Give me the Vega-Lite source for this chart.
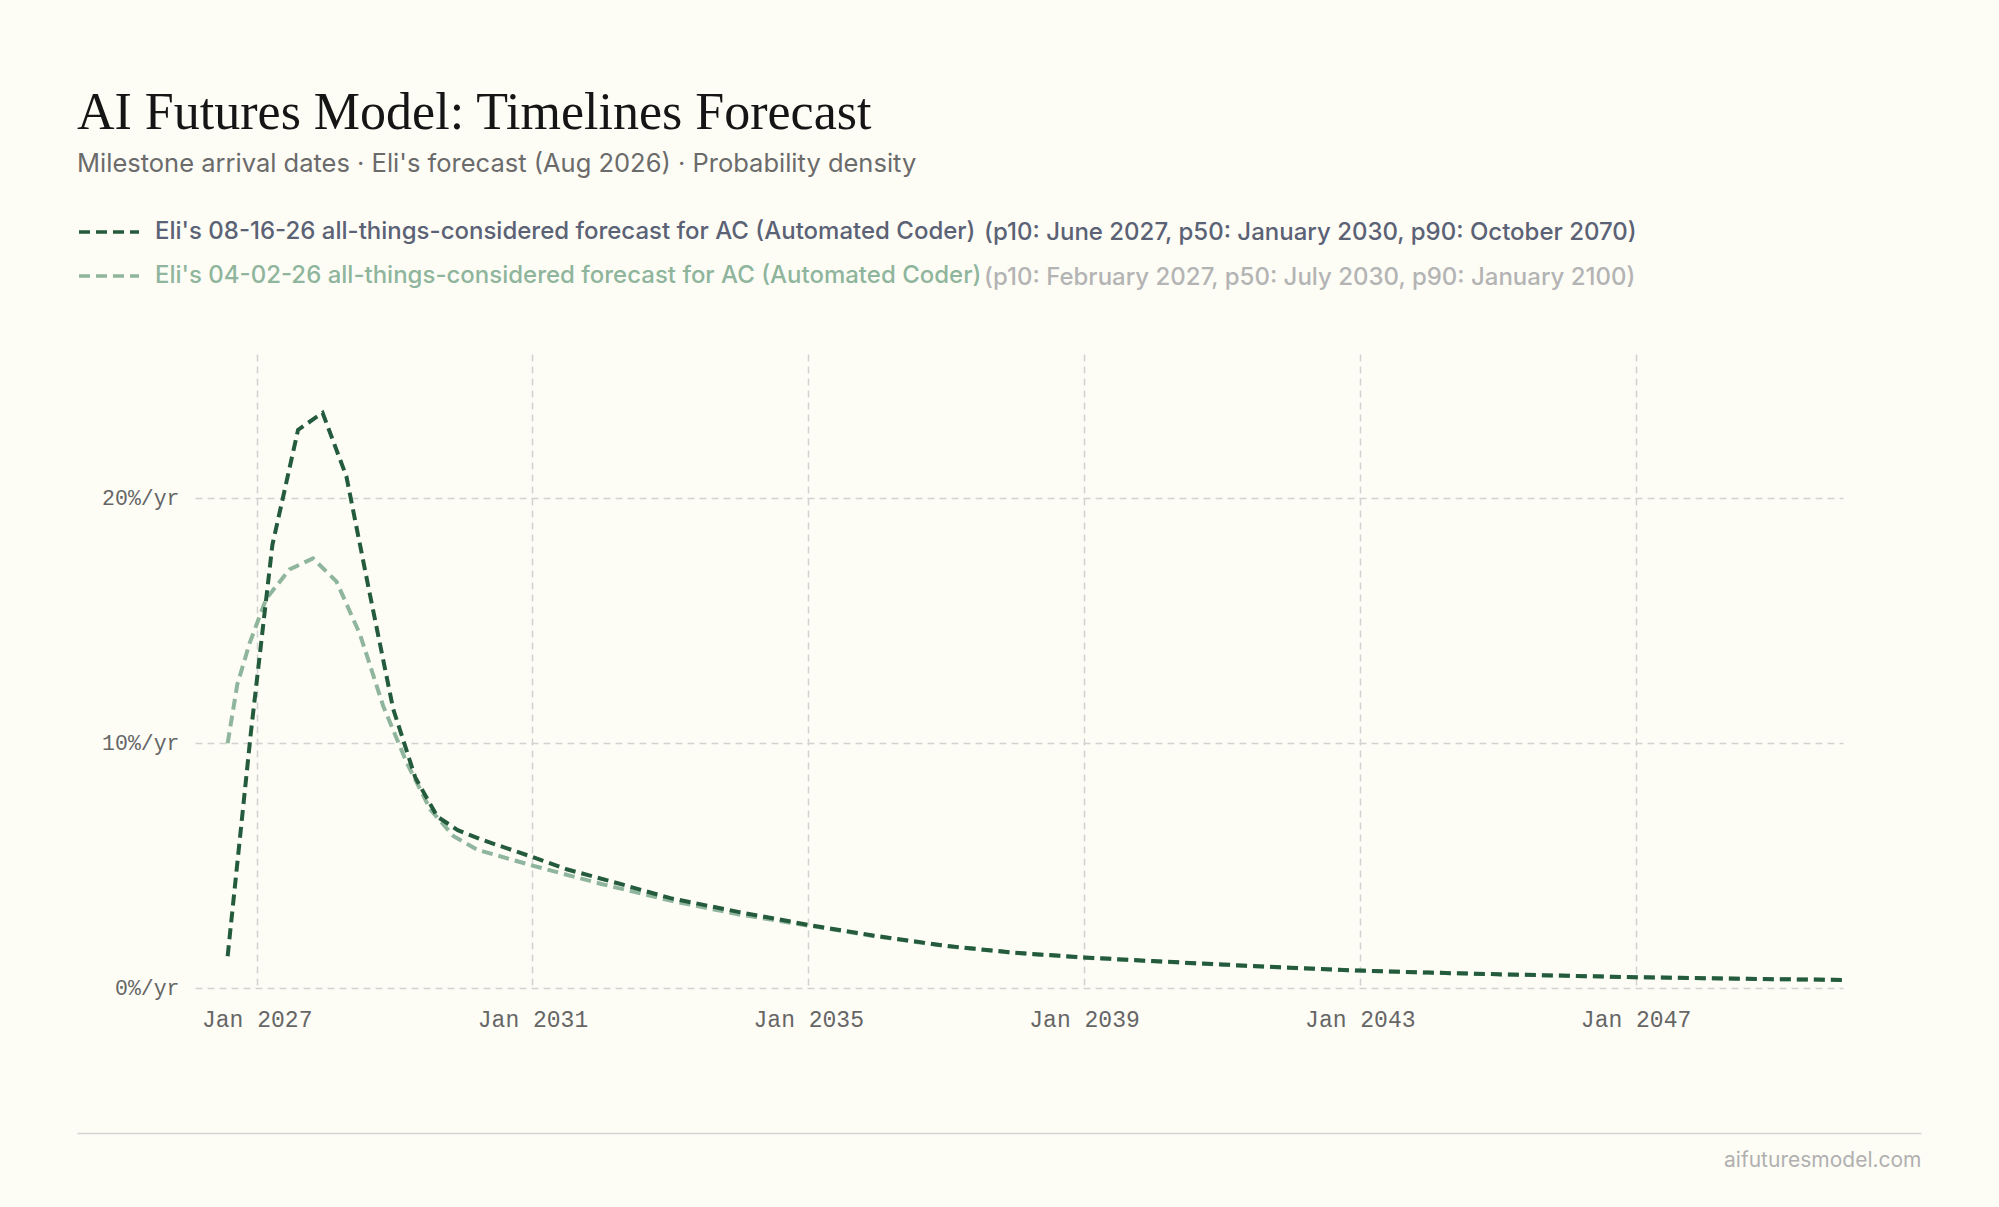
{
  "$schema": "https://vega.github.io/schema/vega-lite/v6.json",
  "width": 1648,
  "height": 634,
  "autosize": {"type": "none"},
  "padding": {"left": 195, "right": 156, "top": 354, "bottom": 219},
  "background": "#fdfdf6",
  "title": {
    "text": "AI Futures Model: Timelines Forecast",
    "subtitle": "Milestone arrival dates · Eli's forecast (Aug 2026) · Probability density",
    "anchor": "start",
    "frame": "group",
    "dx": -118,
    "font": "Liberation Serif",
    "fontSize": 52,
    "fontWeight": "normal",
    "color": "#151515",
    "subtitleFont": "Inter",
    "subtitleFontSize": 25.5,
    "subtitleColor": "#6b6b6b",
    "subtitlePadding": 12,
    "offset": 22
  },
  "data": {
    "values": [
      {"series": "Eli's 04-02-26 all-things-considered forecast for AC (Automated Coder)", "summary": "(p10: February 2027, p50: July 2030, p90: January 2100)", "date": "2026-07-31", "density": 10.0},
      {"series": "Eli's 04-02-26 all-things-considered forecast for AC (Automated Coder)", "summary": "(p10: February 2027, p50: July 2030, p90: January 2100)", "date": "2026-09-20", "density": 12.4},
      {"series": "Eli's 04-02-26 all-things-considered forecast for AC (Automated Coder)", "summary": "(p10: February 2027, p50: July 2030, p90: January 2100)", "date": "2026-11-25", "density": 14.1},
      {"series": "Eli's 04-02-26 all-things-considered forecast for AC (Automated Coder)", "summary": "(p10: February 2027, p50: July 2030, p90: January 2100)", "date": "2027-02-20", "density": 15.9},
      {"series": "Eli's 04-02-26 all-things-considered forecast for AC (Automated Coder)", "summary": "(p10: February 2027, p50: July 2030, p90: January 2100)", "date": "2027-06-24", "density": 17.1},
      {"series": "Eli's 04-02-26 all-things-considered forecast for AC (Automated Coder)", "summary": "(p10: February 2027, p50: July 2030, p90: January 2100)", "date": "2027-10-26", "density": 17.55},
      {"series": "Eli's 04-02-26 all-things-considered forecast for AC (Automated Coder)", "summary": "(p10: February 2027, p50: July 2030, p90: January 2100)", "date": "2028-02-28", "density": 16.6},
      {"series": "Eli's 04-02-26 all-things-considered forecast for AC (Automated Coder)", "summary": "(p10: February 2027, p50: July 2030, p90: January 2100)", "date": "2028-07-01", "density": 14.45},
      {"series": "Eli's 04-02-26 all-things-considered forecast for AC (Automated Coder)", "summary": "(p10: February 2027, p50: July 2030, p90: January 2100)", "date": "2028-11-02", "density": 11.5},
      {"series": "Eli's 04-02-26 all-things-considered forecast for AC (Automated Coder)", "summary": "(p10: February 2027, p50: July 2030, p90: January 2100)", "date": "2029-03-06", "density": 9.2},
      {"series": "Eli's 04-02-26 all-things-considered forecast for AC (Automated Coder)", "summary": "(p10: February 2027, p50: July 2030, p90: January 2100)", "date": "2029-07-08", "density": 7.3},
      {"series": "Eli's 04-02-26 all-things-considered forecast for AC (Automated Coder)", "summary": "(p10: February 2027, p50: July 2030, p90: January 2100)", "date": "2029-11-09", "density": 6.2},
      {"series": "Eli's 04-02-26 all-things-considered forecast for AC (Automated Coder)", "summary": "(p10: February 2027, p50: July 2030, p90: January 2100)", "date": "2030-03-14", "density": 5.65},
      {"series": "Eli's 04-02-26 all-things-considered forecast for AC (Automated Coder)", "summary": "(p10: February 2027, p50: July 2030, p90: January 2100)", "date": "2031-01-01", "density": 5.0},
      {"series": "Eli's 04-02-26 all-things-considered forecast for AC (Automated Coder)", "summary": "(p10: February 2027, p50: July 2030, p90: January 2100)", "date": "2032-01-01", "density": 4.25},
      {"series": "Eli's 04-02-26 all-things-considered forecast for AC (Automated Coder)", "summary": "(p10: February 2027, p50: July 2030, p90: January 2100)", "date": "2033-01-01", "density": 3.57},
      {"series": "Eli's 04-02-26 all-things-considered forecast for AC (Automated Coder)", "summary": "(p10: February 2027, p50: July 2030, p90: January 2100)", "date": "2034-01-01", "density": 3.0},
      {"series": "Eli's 04-02-26 all-things-considered forecast for AC (Automated Coder)", "summary": "(p10: February 2027, p50: July 2030, p90: January 2100)", "date": "2035-01-01", "density": 2.55},
      {"series": "Eli's 04-02-26 all-things-considered forecast for AC (Automated Coder)", "summary": "(p10: February 2027, p50: July 2030, p90: January 2100)", "date": "2036-01-01", "density": 2.1},
      {"series": "Eli's 04-02-26 all-things-considered forecast for AC (Automated Coder)", "summary": "(p10: February 2027, p50: July 2030, p90: January 2100)", "date": "2037-01-01", "density": 1.71},
      {"series": "Eli's 04-02-26 all-things-considered forecast for AC (Automated Coder)", "summary": "(p10: February 2027, p50: July 2030, p90: January 2100)", "date": "2038-01-01", "density": 1.43},
      {"series": "Eli's 04-02-26 all-things-considered forecast for AC (Automated Coder)", "summary": "(p10: February 2027, p50: July 2030, p90: January 2100)", "date": "2039-01-01", "density": 1.24},
      {"series": "Eli's 04-02-26 all-things-considered forecast for AC (Automated Coder)", "summary": "(p10: February 2027, p50: July 2030, p90: January 2100)", "date": "2040-01-01", "density": 1.09},
      {"series": "Eli's 04-02-26 all-things-considered forecast for AC (Automated Coder)", "summary": "(p10: February 2027, p50: July 2030, p90: January 2100)", "date": "2041-01-01", "density": 0.95},
      {"series": "Eli's 04-02-26 all-things-considered forecast for AC (Automated Coder)", "summary": "(p10: February 2027, p50: July 2030, p90: January 2100)", "date": "2042-01-01", "density": 0.82},
      {"series": "Eli's 04-02-26 all-things-considered forecast for AC (Automated Coder)", "summary": "(p10: February 2027, p50: July 2030, p90: January 2100)", "date": "2043-01-01", "density": 0.71},
      {"series": "Eli's 04-02-26 all-things-considered forecast for AC (Automated Coder)", "summary": "(p10: February 2027, p50: July 2030, p90: January 2100)", "date": "2044-01-01", "density": 0.63},
      {"series": "Eli's 04-02-26 all-things-considered forecast for AC (Automated Coder)", "summary": "(p10: February 2027, p50: July 2030, p90: January 2100)", "date": "2045-01-01", "density": 0.56},
      {"series": "Eli's 04-02-26 all-things-considered forecast for AC (Automated Coder)", "summary": "(p10: February 2027, p50: July 2030, p90: January 2100)", "date": "2046-01-01", "density": 0.5},
      {"series": "Eli's 04-02-26 all-things-considered forecast for AC (Automated Coder)", "summary": "(p10: February 2027, p50: July 2030, p90: January 2100)", "date": "2047-01-01", "density": 0.44},
      {"series": "Eli's 04-02-26 all-things-considered forecast for AC (Automated Coder)", "summary": "(p10: February 2027, p50: July 2030, p90: January 2100)", "date": "2048-01-01", "density": 0.4},
      {"series": "Eli's 04-02-26 all-things-considered forecast for AC (Automated Coder)", "summary": "(p10: February 2027, p50: July 2030, p90: January 2100)", "date": "2049-01-01", "density": 0.36},
      {"series": "Eli's 04-02-26 all-things-considered forecast for AC (Automated Coder)", "summary": "(p10: February 2027, p50: July 2030, p90: January 2100)", "date": "2050-01-01", "density": 0.33},
      {"series": "Eli's 08-16-26 all-things-considered forecast for AC (Automated Coder)", "summary": "(p10: June 2027, p50: January 2030, p90: October 2070)", "date": "2026-07-31", "density": 1.3},
      {"series": "Eli's 08-16-26 all-things-considered forecast for AC (Automated Coder)", "summary": "(p10: June 2027, p50: January 2030, p90: October 2070)", "date": "2026-12-02", "density": 10.5},
      {"series": "Eli's 08-16-26 all-things-considered forecast for AC (Automated Coder)", "summary": "(p10: June 2027, p50: January 2030, p90: October 2070)", "date": "2027-03-25", "density": 18.1},
      {"series": "Eli's 08-16-26 all-things-considered forecast for AC (Automated Coder)", "summary": "(p10: June 2027, p50: January 2030, p90: October 2070)", "date": "2027-08-08", "density": 22.8},
      {"series": "Eli's 08-16-26 all-things-considered forecast for AC (Automated Coder)", "summary": "(p10: June 2027, p50: January 2030, p90: October 2070)", "date": "2027-12-16", "density": 23.5},
      {"series": "Eli's 08-16-26 all-things-considered forecast for AC (Automated Coder)", "summary": "(p10: June 2027, p50: January 2030, p90: October 2070)", "date": "2028-04-20", "density": 20.9},
      {"series": "Eli's 08-16-26 all-things-considered forecast for AC (Automated Coder)", "summary": "(p10: June 2027, p50: January 2030, p90: October 2070)", "date": "2028-08-22", "density": 16.1},
      {"series": "Eli's 08-16-26 all-things-considered forecast for AC (Automated Coder)", "summary": "(p10: June 2027, p50: January 2030, p90: October 2070)", "date": "2028-12-24", "density": 11.4},
      {"series": "Eli's 08-16-26 all-things-considered forecast for AC (Automated Coder)", "summary": "(p10: June 2027, p50: January 2030, p90: October 2070)", "date": "2029-04-20", "density": 8.6},
      {"series": "Eli's 08-16-26 all-things-considered forecast for AC (Automated Coder)", "summary": "(p10: June 2027, p50: January 2030, p90: October 2070)", "date": "2029-08-15", "density": 7.0},
      {"series": "Eli's 08-16-26 all-things-considered forecast for AC (Automated Coder)", "summary": "(p10: June 2027, p50: January 2030, p90: October 2070)", "date": "2029-12-01", "density": 6.45},
      {"series": "Eli's 08-16-26 all-things-considered forecast for AC (Automated Coder)", "summary": "(p10: June 2027, p50: January 2030, p90: October 2070)", "date": "2030-04-10", "density": 6.05},
      {"series": "Eli's 08-16-26 all-things-considered forecast for AC (Automated Coder)", "summary": "(p10: June 2027, p50: January 2030, p90: October 2070)", "date": "2031-01-01", "density": 5.35},
      {"series": "Eli's 08-16-26 all-things-considered forecast for AC (Automated Coder)", "summary": "(p10: June 2027, p50: January 2030, p90: October 2070)", "date": "2031-07-01", "density": 4.85},
      {"series": "Eli's 08-16-26 all-things-considered forecast for AC (Automated Coder)", "summary": "(p10: June 2027, p50: January 2030, p90: October 2070)", "date": "2032-03-28", "density": 4.28},
      {"series": "Eli's 08-16-26 all-things-considered forecast for AC (Automated Coder)", "summary": "(p10: June 2027, p50: January 2030, p90: October 2070)", "date": "2033-01-01", "density": 3.67},
      {"series": "Eli's 08-16-26 all-things-considered forecast for AC (Automated Coder)", "summary": "(p10: June 2027, p50: January 2030, p90: October 2070)", "date": "2034-01-01", "density": 3.1},
      {"series": "Eli's 08-16-26 all-things-considered forecast for AC (Automated Coder)", "summary": "(p10: June 2027, p50: January 2030, p90: October 2070)", "date": "2035-01-01", "density": 2.58},
      {"series": "Eli's 08-16-26 all-things-considered forecast for AC (Automated Coder)", "summary": "(p10: June 2027, p50: January 2030, p90: October 2070)", "date": "2036-01-01", "density": 2.12},
      {"series": "Eli's 08-16-26 all-things-considered forecast for AC (Automated Coder)", "summary": "(p10: June 2027, p50: January 2030, p90: October 2070)", "date": "2037-01-01", "density": 1.72},
      {"series": "Eli's 08-16-26 all-things-considered forecast for AC (Automated Coder)", "summary": "(p10: June 2027, p50: January 2030, p90: October 2070)", "date": "2038-01-01", "density": 1.44},
      {"series": "Eli's 08-16-26 all-things-considered forecast for AC (Automated Coder)", "summary": "(p10: June 2027, p50: January 2030, p90: October 2070)", "date": "2039-01-01", "density": 1.25},
      {"series": "Eli's 08-16-26 all-things-considered forecast for AC (Automated Coder)", "summary": "(p10: June 2027, p50: January 2030, p90: October 2070)", "date": "2040-01-01", "density": 1.1},
      {"series": "Eli's 08-16-26 all-things-considered forecast for AC (Automated Coder)", "summary": "(p10: June 2027, p50: January 2030, p90: October 2070)", "date": "2041-01-01", "density": 0.96},
      {"series": "Eli's 08-16-26 all-things-considered forecast for AC (Automated Coder)", "summary": "(p10: June 2027, p50: January 2030, p90: October 2070)", "date": "2042-01-01", "density": 0.83},
      {"series": "Eli's 08-16-26 all-things-considered forecast for AC (Automated Coder)", "summary": "(p10: June 2027, p50: January 2030, p90: October 2070)", "date": "2043-01-01", "density": 0.71},
      {"series": "Eli's 08-16-26 all-things-considered forecast for AC (Automated Coder)", "summary": "(p10: June 2027, p50: January 2030, p90: October 2070)", "date": "2044-01-01", "density": 0.63},
      {"series": "Eli's 08-16-26 all-things-considered forecast for AC (Automated Coder)", "summary": "(p10: June 2027, p50: January 2030, p90: October 2070)", "date": "2045-01-01", "density": 0.56},
      {"series": "Eli's 08-16-26 all-things-considered forecast for AC (Automated Coder)", "summary": "(p10: June 2027, p50: January 2030, p90: October 2070)", "date": "2046-01-01", "density": 0.5},
      {"series": "Eli's 08-16-26 all-things-considered forecast for AC (Automated Coder)", "summary": "(p10: June 2027, p50: January 2030, p90: October 2070)", "date": "2047-01-01", "density": 0.44},
      {"series": "Eli's 08-16-26 all-things-considered forecast for AC (Automated Coder)", "summary": "(p10: June 2027, p50: January 2030, p90: October 2070)", "date": "2048-01-01", "density": 0.4},
      {"series": "Eli's 08-16-26 all-things-considered forecast for AC (Automated Coder)", "summary": "(p10: June 2027, p50: January 2030, p90: October 2070)", "date": "2049-01-01", "density": 0.36},
      {"series": "Eli's 08-16-26 all-things-considered forecast for AC (Automated Coder)", "summary": "(p10: June 2027, p50: January 2030, p90: October 2070)", "date": "2050-01-01", "density": 0.33}
    ]
  },
  "layer": [
    {
      "mark": {"type": "line", "strokeWidth": 4, "strokeDash": [11, 6], "interpolate": "linear"},
      "encoding": {
        "x": {
          "field": "date",
          "type": "temporal",
          "scale": {"type": "utc", "domain": [{"year": 2026, "month": 2, "date": 8, "utc": true}, {"year": 2050, "month": 1, "date": 4, "utc": true}]},
          "axis": {
            "orient": "bottom",
            "title": null,
            "values": [
              {"year": 2027, "month": 1, "date": 1, "utc": true},
              {"year": 2031, "month": 1, "date": 1, "utc": true},
              {"year": 2035, "month": 1, "date": 1, "utc": true},
              {"year": 2039, "month": 1, "date": 1, "utc": true},
              {"year": 2043, "month": 1, "date": 1, "utc": true},
              {"year": 2047, "month": 1, "date": 1, "utc": true}
            ],
            "labelExpr": "utcFormat(datum.value, '%b %Y')",
            "domain": false,
            "ticks": false,
            "labelFont": "Liberation Mono",
            "labelFontSize": 23,
            "labelColor": "#666666",
            "labelPadding": 20,
            "grid": true,
            "gridColor": "#d2d2d2",
            "gridDash": [7, 5],
            "gridWidth": 1.5
          }
        },
        "y": {
          "field": "density",
          "type": "quantitative",
          "scale": {"domain": [0, 25.9], "nice": false},
          "axis": {
            "title": null,
            "values": [0, 10, 20],
            "labelExpr": "datum.value + '%/yr'",
            "domain": false,
            "ticks": false,
            "labelFont": "Liberation Mono",
            "labelFontSize": 21.5,
            "labelColor": "#666666",
            "labelPadding": 16,
            "grid": true,
            "gridColor": "#d2d2d2",
            "gridDash": [7, 5],
            "gridWidth": 1.5
          }
        },
        "color": {
          "field": "series",
          "type": "nominal",
          "scale": {
            "domain": ["Eli's 08-16-26 all-things-considered forecast for AC (Automated Coder)", "Eli's 04-02-26 all-things-considered forecast for AC (Automated Coder)"],
            "range": ["#245b3d", "#8fb59c"]
          },
          "legend": {
            "title": null,
            "orient": "none",
            "legendX": -118,
            "legendY": -154,
            "direction": "vertical",
            "padding": 0,
            "symbolType": "stroke",
            "symbolSize": 3600,
            "symbolStrokeWidth": 3.6,
            "symbolDash": [11, 6],
            "rowPadding": -10,
            "labelOffset": 14,
            "labelFont": "Inter",
            "labelFontSize": 24,
            "labelFontWeight": 500,
            "labelLimit": 2000,
            "encode": {"labels": {"update": {"fill": {"signal": "datum.index === 0 ? '#5b6275' : '#8fb59c'"}}}}
          }
        },
        "opacity": {
          "field": "summary",
          "type": "nominal",
          "scale": {
            "domain": ["(p10: June 2027, p50: January 2030, p90: October 2070)", "(p10: February 2027, p50: July 2030, p90: January 2100)"],
            "range": [1, 1]
          },
          "legend": {
            "title": null,
            "orient": "none",
            "legendX": 765,
            "legendY": -133,
            "direction": "vertical",
            "padding": 0,
            "symbolSize": 0,
            "symbolOpacity": 0,
            "symbolStrokeWidth": 0,
            "rowPadding": 21,
            "labelOffset": 0,
            "labelFont": "Inter",
            "labelFontSize": 24,
            "labelFontWeight": 500,
            "labelLimit": 2000,
            "encode": {"labels": {"update": {"fill": {"signal": "datum.index === 0 ? '#5b6275' : '#b4b4b4'"}}}}
          }
        }
      }
    },
    {
      "mark": {"type": "line", "strokeOpacity": 0},
      "encoding": {
        "x": {
          "field": "date",
          "type": "temporal",
          "scale": {"type": "utc", "range": [-118, {"expr": "width + 78"}]},
          "axis": {
            "orient": "bottom",
            "offset": 145,
            "labels": false,
            "ticks": false,
            "grid": false,
            "domain": true,
            "domainColor": "#d4d4d4",
            "domainWidth": 1.5,
            "title": "aifuturesmodel.com",
            "titleAnchor": "end",
            "titleFont": "Inter",
            "titleFontSize": 21,
            "titleFontWeight": "normal",
            "titleColor": "#b0b0b0",
            "titlePadding": 16
          }
        },
        "y": {"field": "density", "type": "quantitative"}
      }
    }
  ],
  "resolve": {"scale": {"x": "independent"}, "axis": {"x": "independent"}},
  "config": {
    "view": {"stroke": null},
    "font": "Inter"
  }
}
